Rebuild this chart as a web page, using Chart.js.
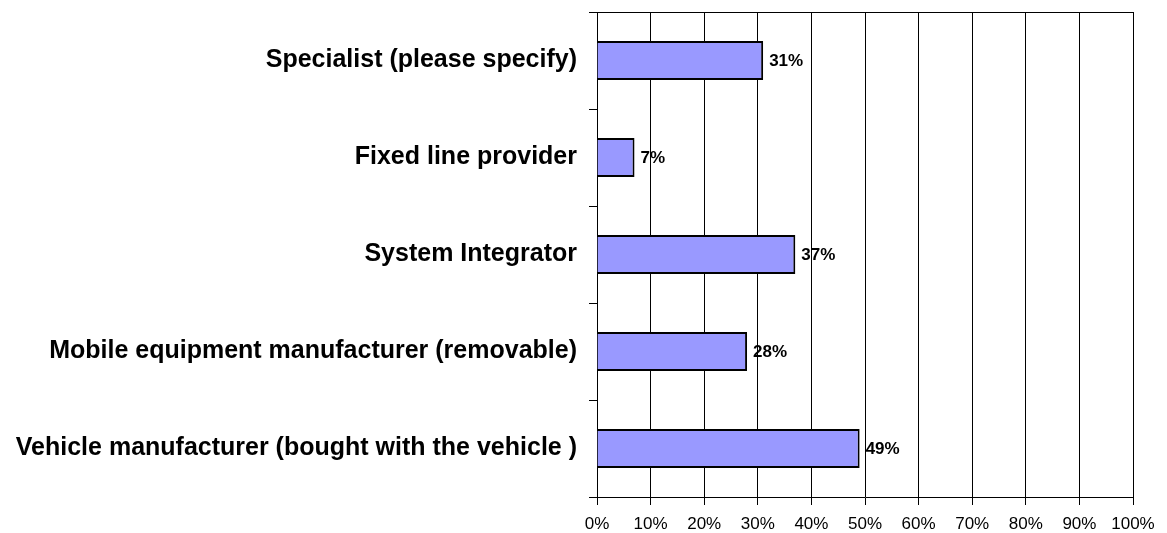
<!DOCTYPE html>
<html><head><meta charset="utf-8">
<script src="https://cdn.jsdelivr.net/npm/chart.js@4"></script>
<style>html,body{margin:0;padding:0;background:#fff}#wrap{width:1167px;height:533px}</style>
</head><body><div id="wrap"><canvas id="c" width="1167" height="533"></canvas></div>
<script>
const categories = ["Specialist (please specify)", "Fixed line provider", "System Integrator", "Mobile equipment manufacturer (removable)", "Vehicle manufacturer (bought with the vehicle )"];
const values = [31, 7, 37, 28, 49];
const xTicks = [0,10,20,30,40,50,60,70,80,90,100];

const valueLabels = {
  id: 'valueLabels',
  afterDatasetsDraw(chart) {
    const ctx = chart.ctx;
    const meta = chart.getDatasetMeta(0);
    ctx.save();
    ctx.font = 'bold 17px "Liberation Sans", Arial, sans-serif';
    ctx.fillStyle = '#000';
    ctx.textBaseline = 'middle';
    ctx.textAlign = 'left';
    meta.data.forEach((bar, i) => {
      ctx.fillText(values[i] + '%', bar.x + 6, bar.y + 1);
    });
    ctx.restore();
  }
};
const topBorder = {
  id: 'topBorder',
  afterDraw(chart) {
    const {ctx, chartArea} = chart;
    ctx.save();
    ctx.strokeStyle = '#000';
    ctx.lineWidth = 1;
    ctx.beginPath();
    ctx.moveTo(chartArea.left - 8, chartArea.top + 0.5);
    ctx.lineTo(chartArea.right, chartArea.top + 0.5);
    ctx.stroke();
    ctx.restore();
  }
};

new Chart(document.getElementById('c'), {
  type: 'bar',
  data: {
    labels: categories,
    datasets: [{
      data: values,
      backgroundColor: '#9999FF',
      borderColor: '#000',
      borderWidth: 2,
      barPercentage: 0.4,
      categoryPercentage: 1.0
    }]
  },
  options: {
    indexAxis: 'y',
    responsive: false,
    animation: false,
    layout: { padding: { top: 12, right: 34, left: 0, bottom: 0 } },
    plugins: { legend: { display: false }, tooltip: { enabled: false } },
    scales: {
      x: {
        min: 0, max: 100,
        afterBuildTicks(axis) { axis.ticks = xTicks.map(v => ({ value: v })); },
        ticks: {
          callback: v => v + '%',
          color: '#000',
          font: { family: '"Liberation Sans", Arial, sans-serif', size: 17 },
          padding: 9,
          maxRotation: 0
        },
        grid: { color: '#000', lineWidth: 1, tickLength: 8, drawTicks: true },
        border: { color: '#000', width: 1 },
        afterFit(axis) { axis.height = 36; }
      },
      y: {
        ticks: {
          color: '#000',
          font: { family: '"Liberation Sans", Arial, sans-serif', size: 25, weight: 'bold' },
          padding: 12
        },
        grid: { offset: true, drawOnChartArea: false, drawTicks: true, tickLength: 8, color: '#000' },
        border: { color: '#000', width: 1 },
        afterFit(axis) { axis.width = 597; axis.paddingTop = 0; axis.paddingBottom = 0; }
      }
    }
  },
  plugins: [valueLabels, topBorder]
});
</script></body></html>
